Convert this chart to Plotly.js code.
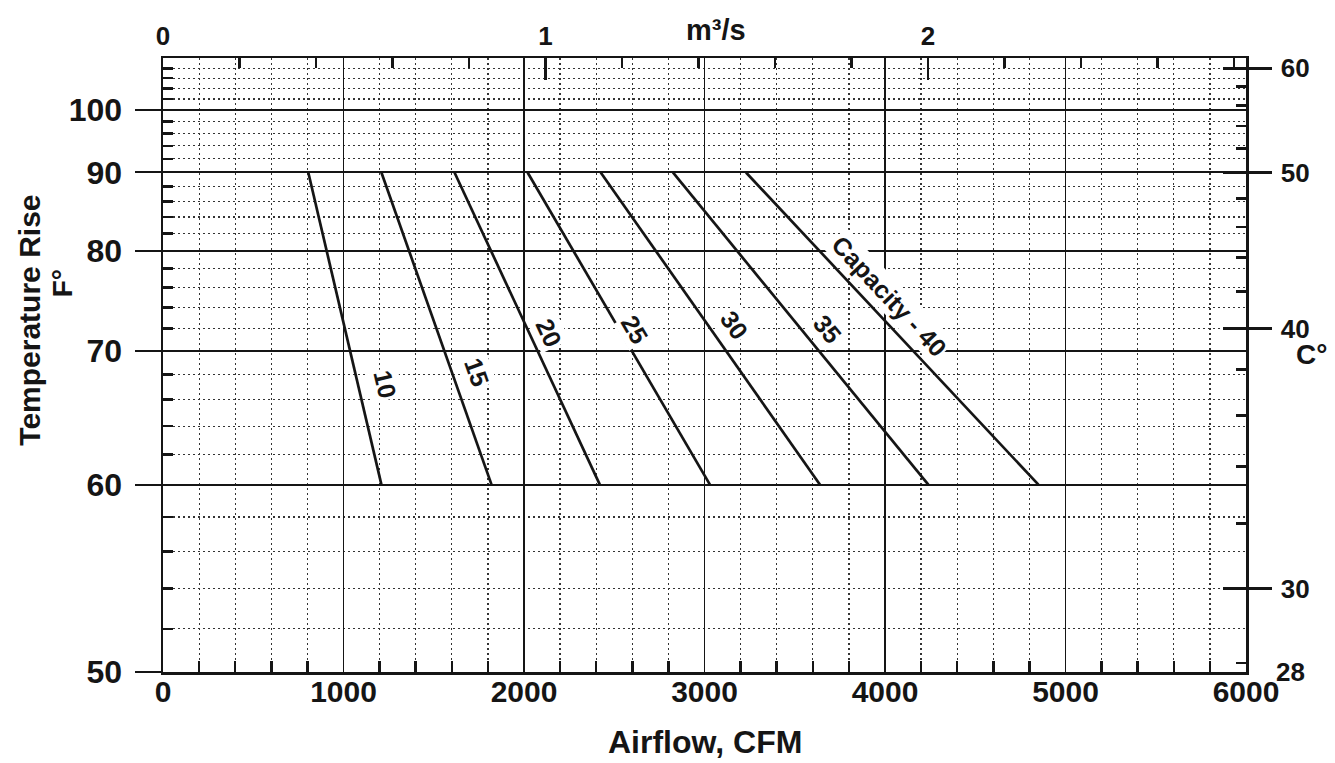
<!DOCTYPE html>
<html>
<head>
<meta charset="utf-8">
<script src="https://cdn.plot.ly/plotly-3.0.1.min.js"></script>
<style>
  html, body { margin: 0; padding: 0; background: #ffffff; }
  #chart { width: 1335px; height: 763px; }
</style>
</head>
<body>
<div id="chart"></div>
<script>
// ---------------- data ----------------
const capacity   = [10, 15, 20, 25, 30, 35, 40];
const capLabels  = ["10", "15", "20", "25", "30", "35", "Capacity - 40"];
const cfmAt90    = [805, 1210, 1615, 2020, 2425, 2825, 3230];   // airflow (CFM) at 90 F° rise
const cfmAt60    = [1210, 1820, 2420, 3030, 3640, 4240, 4850];  // airflow (CFM) at 60 F° rise
const riseEnds   = [90, 60];                                     // F° rise at line ends

const fTickVals  = [50, 60, 70, 80, 90, 100];
const cTickVals  = [30, 40, 50, 60];
const cfmTicks   = [0, 1000, 2000, 3000, 4000, 5000, 6000];
const m3sTicks   = [0, 1, 2];
const CFM_PER_M3S = 2118.88;
const F_PER_C = 1.8;

// ---------------- layout constants ----------------
const W = 1335, H = 763;
const M = {l: 163, r: 89, t: 58, b: 91};
const X_MAX = 6000, F_BOTTOM = 50, F_TOP = 110.2;
const FONT = '"Liberation Sans", Arial, Helvetica, sans-serif';
const INK = '#151515';

// reciprocal temperature-rise scale
const u = f => 1000 / f;
const uC = c => 1000 / (F_PER_C * c);

function range(a, b, step) { const r = []; for (let v = a; v <= b + 1e-9; v += step) r.push(+v.toFixed(6)); return r; }

const fMinor = range(52, 108, 2).filter(v => v % 10 !== 0).map(u);
const cMinor = range(28, 58, 2).filter(v => v % 10 !== 0).map(uC);
const cfmMinor = range(200, 5800, 200).filter(v => v % 1000 !== 0);

// ---------------- traces ----------------
const traces = capacity.map((c, i) => ({
  type: 'scatter', mode: 'lines',
  x: [cfmAt90[i], cfmAt60[i]],
  y: riseEnds.map(u),
  xaxis: 'x', yaxis: 'y',
  line: {color: INK, width: 2.7},
  hoverinfo: 'skip', showlegend: false, name: String(c)
}));

// ---------------- label placement (layout only) ----------------
const labelRise  = [67.2, 68.2, 71.6, 71.9, 72.3, 72.0, 75.1];
const labelShift = [27, 25, 20, 16, 26, 27, 27];
const plotW = W - M.l - M.r, plotH = H - M.t - M.b;
const pxPerX = plotW / X_MAX;
const pxPerU = plotH / (u(F_BOTTOM) - u(F_TOP));

const bold = (size) => ({family: FONT, size: size, color: INK, weight: 'bold'});

const annotations = capacity.map((c, i) => {
  const t = (u(labelRise[i]) - u(riseEnds[0])) / (u(riseEnds[1]) - u(riseEnds[0]));
  const x = cfmAt90[i] + t * (cfmAt60[i] - cfmAt90[i]);
  const dx = (cfmAt60[i] - cfmAt90[i]) * pxPerX;
  const dy = (u(riseEnds[1]) - u(riseEnds[0])) * pxPerU;
  const ang = Math.atan2(dy, dx) * 180 / Math.PI;
  return {
    x: x, y: u(labelRise[i]), xref: 'x', yref: 'y',
    text: capLabels[i], showarrow: false, textangle: ang,
    xshift: labelShift[i], bgcolor: '#ffffff', borderpad: 1,
    font: bold(25)
  };
});

annotations.push(
  {text: 'Temperature Rise', xref: 'paper', yref: 'paper', x: -0.124, y: 1 - (320 - M.t) / plotH,
   xanchor: 'center', yanchor: 'middle', textangle: -90, showarrow: false, font: bold(30)},
  {text: 'F°', xref: 'paper', yref: 'paper', x: -0.093, y: 1 - (283 - M.t) / plotH,
   xanchor: 'center', yanchor: 'middle', textangle: -90, showarrow: false, font: bold(28)},
  {text: 'Airflow, CFM', xref: 'paper', yref: 'paper', x: (705 - M.l) / plotW, y: -(742 - M.t - plotH) / plotH,
   xanchor: 'center', yanchor: 'middle', showarrow: false, font: bold(32)},
  {text: 'm³/s', xref: 'paper', yref: 'paper', x: (716 - M.l) / plotW, y: 1 + (M.t - 30) / plotH,
   xanchor: 'center', yanchor: 'middle', showarrow: false, font: bold(29)},
  {text: 'C°', xref: 'paper', yref: 'paper', x: 1, xshift: 65, y: 1 - (354 - M.t) / plotH,
   xanchor: 'center', yanchor: 'middle', showarrow: false, font: bold(28)},
  {text: '28', xref: 'paper', yref: 'y', x: 1, xshift: 28, y: u(F_BOTTOM),
   xanchor: 'left', yanchor: 'middle', showarrow: false, font: bold(26)}
);

const layout = {
  width: W, height: H,
  margin: M,
  paper_bgcolor: '#ffffff', plot_bgcolor: '#ffffff',
  showlegend: false,
  font: {family: FONT, color: INK},
  xaxis: {
    range: [0, X_MAX], tickmode: 'array', tickvals: cfmTicks, ticktext: cfmTicks.map(String),
    ticks: '', showgrid: true, gridcolor: INK, gridwidth: 1.7,
    showline: true, linecolor: INK, linewidth: 2.5, zeroline: false,
    tickfont: bold(30), ticklabelstandoff: -9,
    minor: {tickmode: 'array', tickvals: cfmMinor, ticks: 'inside', ticklen: 11, tickwidth: 2.5, tickcolor: INK,
            showgrid: true, gridcolor: '#333333', gridwidth: 1.2, griddash: '2px,3px'},
    fixedrange: true
  },
  xaxis2: {
    overlaying: 'x', side: 'top', anchor: 'y',
    range: [0, X_MAX / CFM_PER_M3S], tickmode: 'array', tickvals: m3sTicks, ticktext: m3sTicks.map(String),
    ticks: 'inside', ticklen: 22, tickwidth: 2.5, tickcolor: INK,
    showgrid: false, showline: true, linecolor: INK, linewidth: 2.5, zeroline: false,
    tickfont: bold(26), ticklabelstandoff: 0,
    minor: {dtick: 0.2, tick0: 0, ticks: 'inside', ticklen: 10, tickwidth: 2.5, tickcolor: INK, showgrid: false},
    fixedrange: true
  },
  yaxis: {
    range: [u(F_BOTTOM), u(F_TOP)], tickmode: 'array', tickvals: fTickVals.map(u), ticktext: fTickVals.map(String),
    ticks: 'outside', ticklen: 26, tickwidth: 2, tickcolor: INK,
    showgrid: true, gridcolor: INK, gridwidth: 2,
    showline: true, linecolor: INK, linewidth: 2.5, zeroline: false,
    tickfont: bold(32), ticklabelstandoff: 6,
    minor: {tickmode: 'array', tickvals: fMinor, ticks: 'inside', ticklen: 10, tickwidth: 2.5, tickcolor: INK,
            showgrid: true, gridcolor: '#333333', gridwidth: 1.2, griddash: '2px,3px'},
    fixedrange: true
  },
  yaxis2: {
    overlaying: 'y', side: 'right', anchor: 'x',
    range: [u(F_BOTTOM), u(F_TOP)], tickmode: 'array', tickvals: cTickVals.map(uC), ticktext: cTickVals.map(String),
    ticks: 'outside', ticklen: 23, tickwidth: 2.5, tickcolor: INK,
    showgrid: false, showline: true, linecolor: INK, linewidth: 2.5, zeroline: false,
    tickfont: bold(26), ticklabelstandoff: 4,
    minor: {tickmode: 'array', tickvals: cMinor, ticks: 'inside', ticklen: 10, tickwidth: 2.5, tickcolor: INK, showgrid: false},
    fixedrange: true
  },
  yaxis3: {
    overlaying: 'y', side: 'right', anchor: 'x',
    range: [u(F_BOTTOM), u(F_TOP)], tickmode: 'array', tickvals: cTickVals.map(uC),
    ticks: 'inside', ticklen: 23, tickwidth: 2.5, tickcolor: INK,
    showticklabels: false, showgrid: false, showline: false, zeroline: false,
    fixedrange: true
  },
  annotations: annotations
};

// invisible helper traces so the secondary axes are drawn
traces.push(
  {type: 'scatter', mode: 'markers', x: [0], y: [u(F_BOTTOM)], xaxis: 'x2', yaxis: 'y', marker: {opacity: 0}, hoverinfo: 'skip', showlegend: false},
  {type: 'scatter', mode: 'markers', x: [0], y: [u(F_BOTTOM)], xaxis: 'x', yaxis: 'y2', marker: {opacity: 0}, hoverinfo: 'skip', showlegend: false},
  {type: 'scatter', mode: 'markers', x: [0], y: [u(F_BOTTOM)], xaxis: 'x', yaxis: 'y3', marker: {opacity: 0}, hoverinfo: 'skip', showlegend: false}
);

Plotly.newPlot('chart', traces, layout, {displayModeBar: false, staticPlot: true});
</script>
</body>
</html>
